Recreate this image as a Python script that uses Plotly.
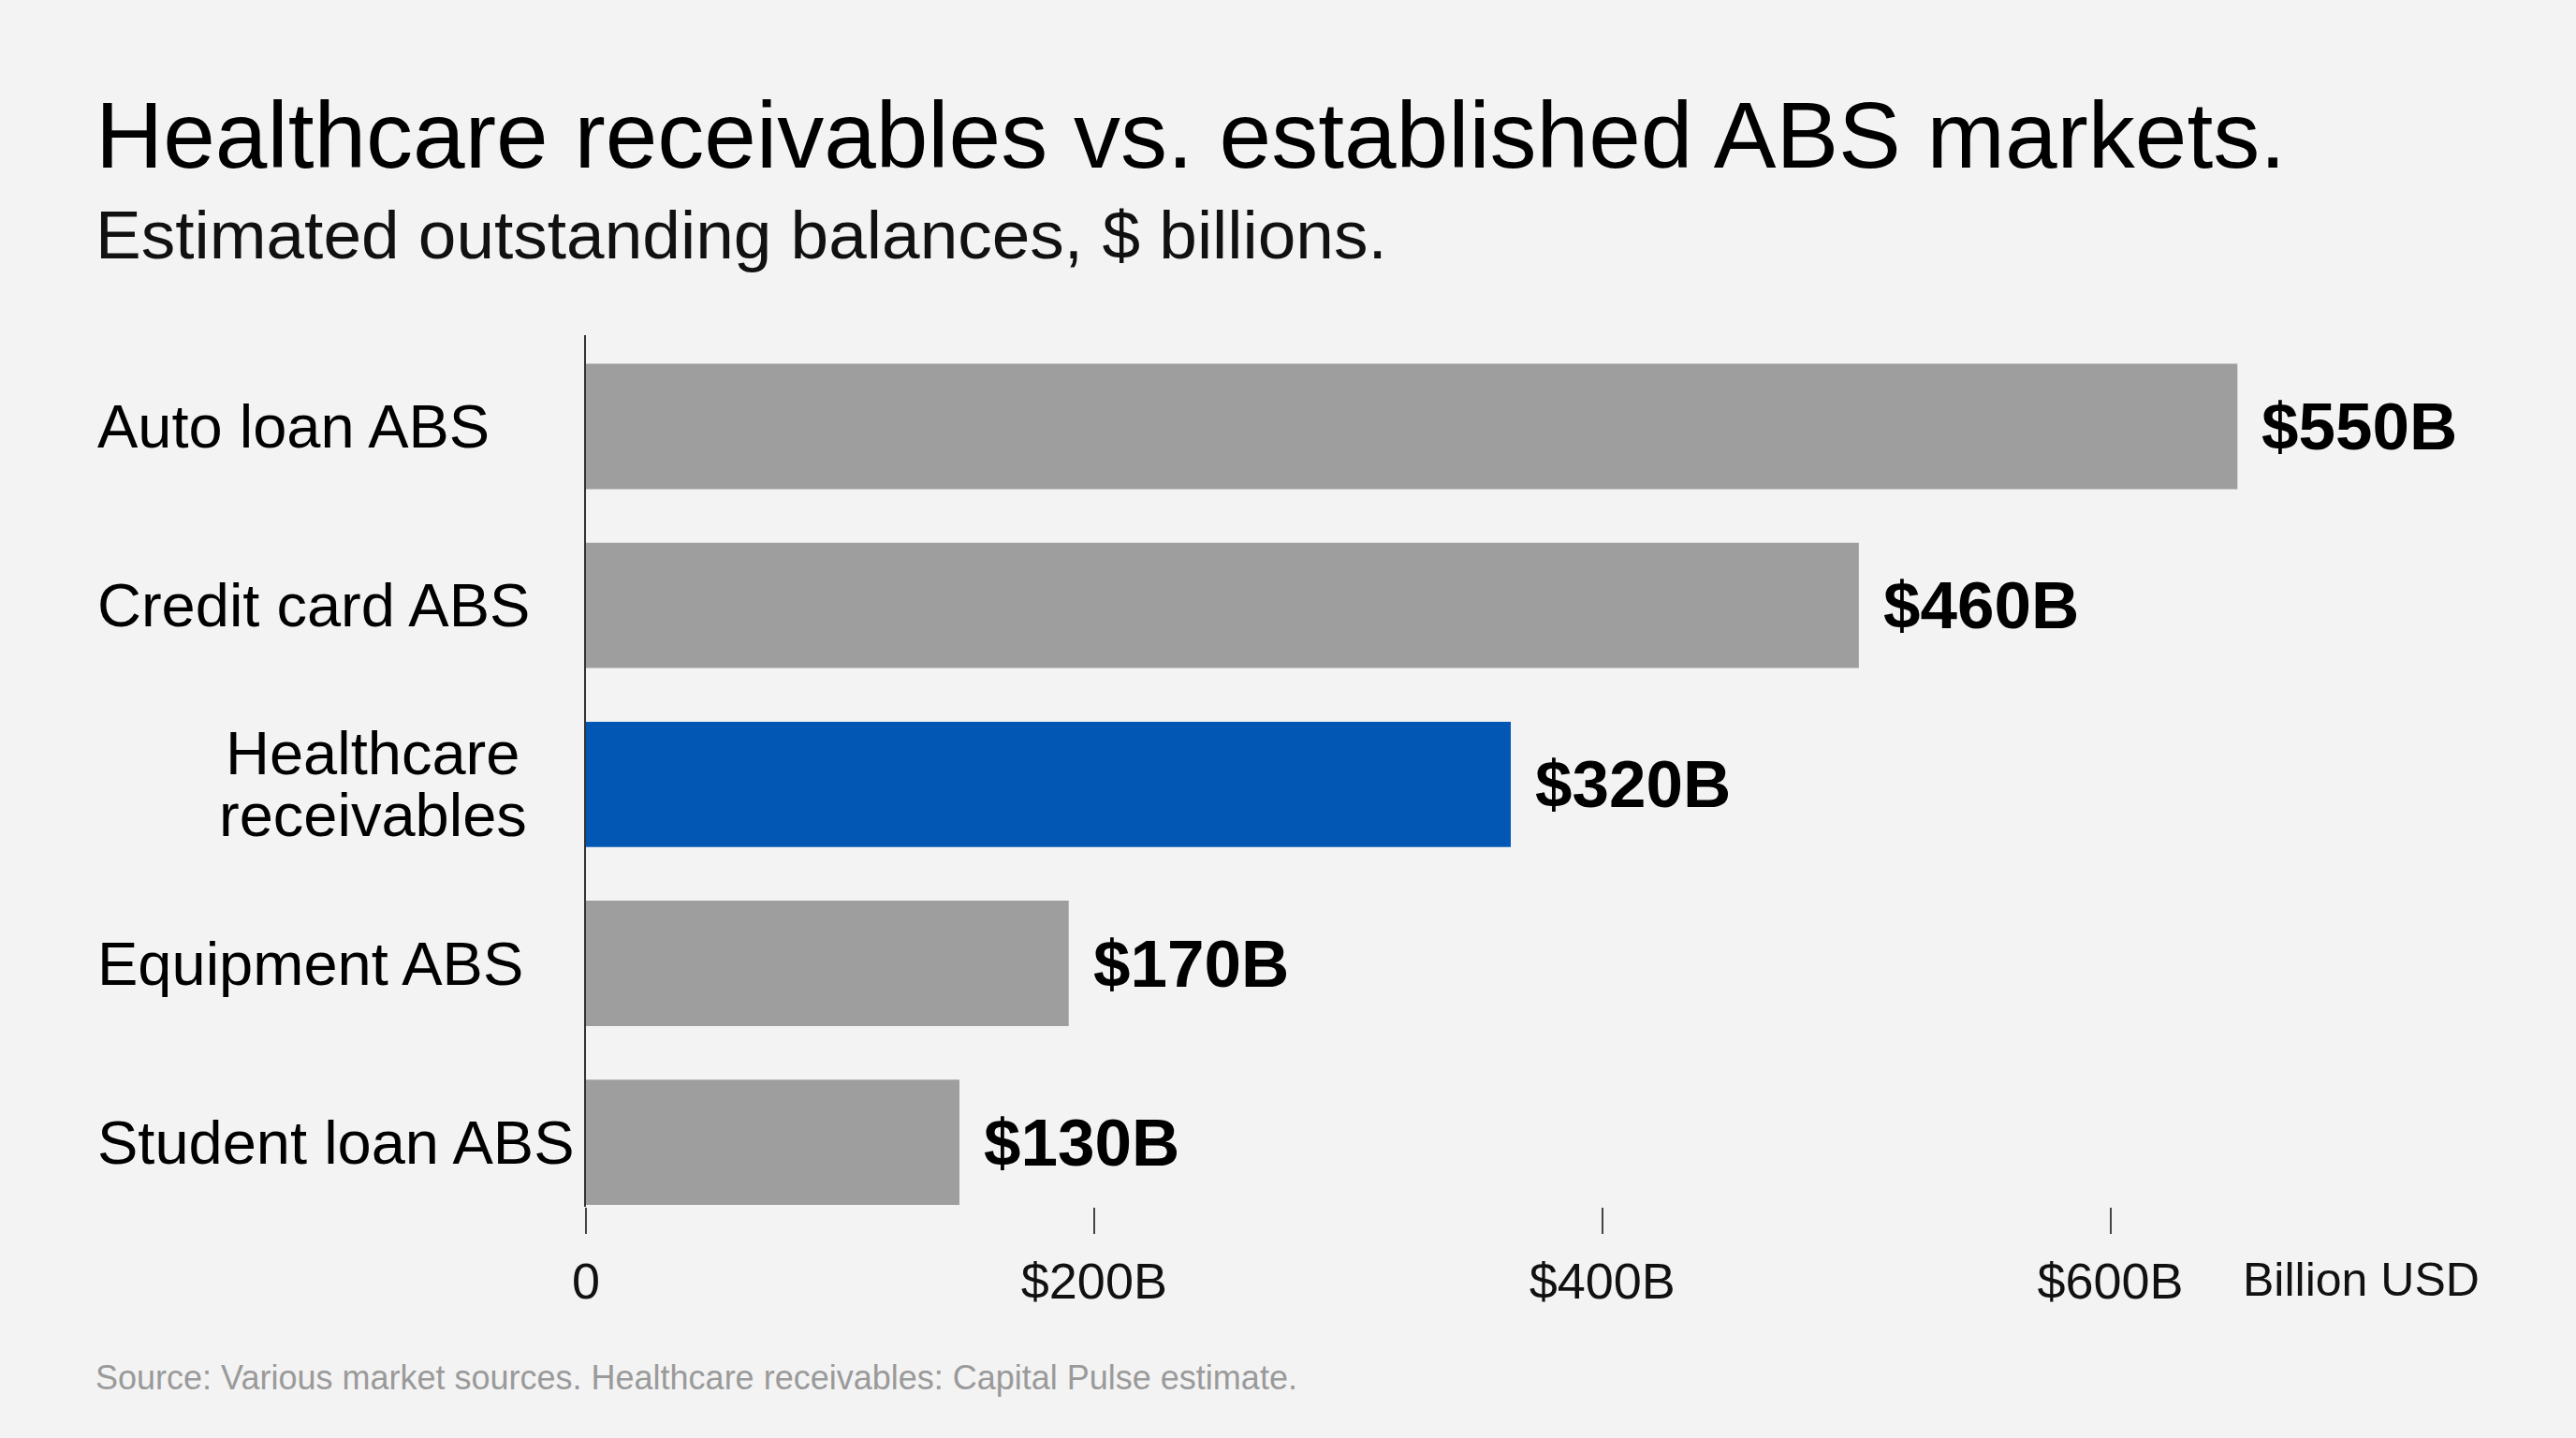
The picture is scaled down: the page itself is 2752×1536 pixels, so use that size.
import plotly.graph_objects as go

# ---- data ----
categories = ["Auto loan ABS", "Credit card ABS", "Healthcare receivables", "Equipment ABS", "Student loan ABS"]
bar_values = [650, 501, 364, 190, 147]          # bar lengths as drawn (billions on axis scale)
value_labels = ["$550B", "$460B", "$320B", "$170B", "$130B"]
tick_values = [0, 200, 400, 600]
tick_labels = ["0", "$200B", "$400B", "$600B"]

W, H = 2752, 1536
L, R, T, B = 626, 226, 358, 247
PW, PH = W - L - R, H - T - B
FONT = "Liberation Sans, Arial, sans-serif"
GRAY = "#9e9e9e"
BLUE = "#0257b4"
BG = "#f3f3f3"

def px(xp):
    return (xp - L) / PW

def py(yp):
    return (H - B - yp) / PH

colors = [BLUE if c.startswith("Healthcare") else GRAY for c in categories]

fig = go.Figure(go.Bar(
    x=bar_values, y=categories, orientation="h",
    marker=dict(color=colors, line=dict(width=0)),
    width=0.7, hoverinfo="skip",
))

ann = []
# value labels
for c, v, t in zip(categories, bar_values, value_labels):
    ann.append(dict(x=v, y=c, xref="x", yref="y", text=f"<b>{t}</b>", showarrow=False,
                    xanchor="left", yanchor="middle", xshift=24,
                    font=dict(family=FONT, size=71, color="#000")))
# category labels
for c in categories:
    if c.startswith("Healthcare"):
        parts = c.split(" ")
        ann.append(dict(x=px(398), y=c, xref="paper", yref="y", text=parts[0], showarrow=False,
                        xanchor="center", yanchor="middle", yshift=33,
                        font=dict(family=FONT, size=65, color="#000")))
        ann.append(dict(x=px(398), y=c, xref="paper", yref="y", text=parts[1], showarrow=False,
                        xanchor="center", yanchor="middle", yshift=-33,
                        font=dict(family=FONT, size=65, color="#000")))
    else:
        ann.append(dict(x=px(102), y=c, xref="paper", yref="y", text=c, showarrow=False,
                        xanchor="left", yanchor="middle",
                        font=dict(family=FONT, size=65, color="#000")))
# title, subtitle, source, unit
ann.append(dict(x=px(100), y=py(144), xref="paper", yref="paper", text="Healthcare receivables vs. established ABS markets.",
                showarrow=False, xanchor="left", yanchor="middle",
                font=dict(family=FONT, size=100, color="#000")))
ann.append(dict(x=px(100), y=py(250), xref="paper", yref="paper", text="Estimated outstanding balances, $ billions.",
                showarrow=False, xanchor="left", yanchor="middle",
                font=dict(family=FONT, size=73, color="#111")))
ann.append(dict(x=px(100), y=py(1471), xref="paper", yref="paper",
                text="Source: Various market sources. Healthcare receivables: Capital Pulse estimate.",
                showarrow=False, xanchor="left", yanchor="middle",
                font=dict(family=FONT, size=36, color="#9a9a9a")))
ann.append(dict(x=px(2394), y=py(1367), xref="paper", yref="paper", text="Billion USD",
                showarrow=False, xanchor="left", yanchor="middle",
                font=dict(family=FONT, size=50, color="#111")))

fig.update_layout(
    width=W, height=H, autosize=False,
    margin=dict(l=L, r=R, t=T, b=B, pad=0),
    paper_bgcolor=BG, plot_bgcolor=BG,
    showlegend=False,
    annotations=ann,
    xaxis=dict(range=[0, 700], tickvals=tick_values, ticktext=tick_labels,
               ticks="outside", ticklen=28, tickwidth=2, tickcolor="#444",
               showgrid=False, zeroline=False, showline=False,
               ticklabelstandoff=4,
               tickfont=dict(family=FONT, size=54, color="#111"), fixedrange=True),
    yaxis=dict(categoryorder="array", categoryarray=categories, range=[4.36, -0.51],
               showticklabels=False, ticks="", showgrid=False, zeroline=False,
               showline=True, linecolor="#333", linewidth=2, fixedrange=True),
)

fig.write_html("out.html", config={"displayModeBar": False},
               post_script="document.body.style.margin='0';document.body.style.background='#f3f3f3';")
